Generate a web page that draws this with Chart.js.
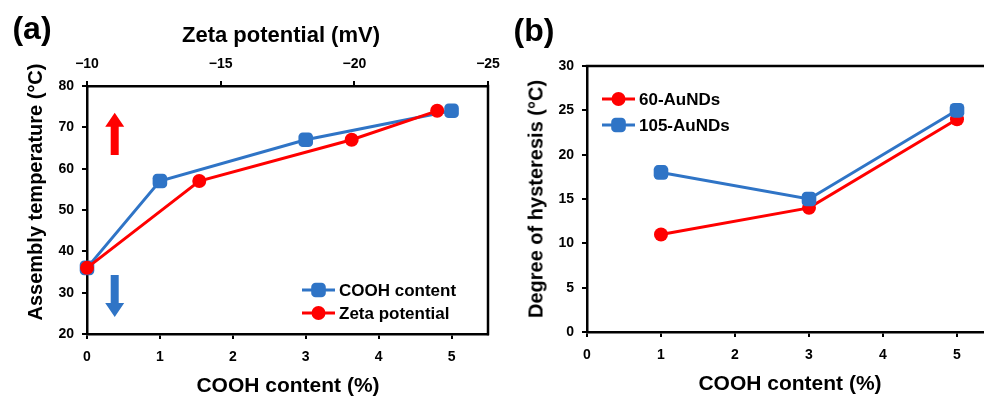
<!DOCTYPE html>
<html>
<head>
<meta charset="utf-8">
<script src="https://cdn.jsdelivr.net/npm/chart.js@4.4.1/dist/chart.umd.min.js"></script>
<style>
	html, body { margin: 0; padding: 0; background: #fff; }
	body { width: 984px; height: 396px; overflow: hidden; position: relative; font-family: Arial, "Liberation Sans", sans-serif; }
	.pane { position: absolute; top: 0; width: 520px; height: 396px; }
	.txt { position: absolute; font-weight: bold; color: #000; white-space: nowrap; transform: translate(-50%, -50%); }
	.rot { transform: translate(-50%, -50%) rotate(-90deg); }
</style>
</head>
<body>
<div class="pane" style="left:0px"><canvas id="chartA" width="520" height="396"></canvas></div>
<div class="pane" style="left:500px"><canvas id="chartB" width="520" height="396"></canvas></div>

<div class="txt" style="left:32px; top:28px; font-size:32px">(a)</div>
<div class="txt" style="left:534px; top:30px; font-size:32px">(b)</div>
<div class="txt" style="left:281px; top:35px; font-size:22px">Zeta potential (mV)</div>
<div class="txt" style="left:288px; top:385px; font-size:21px">COOH content (%)</div>
<div class="txt" style="left:790px; top:383px; font-size:21px">COOH content (%)</div>
<div class="txt rot" style="left:35px; top:192px; font-size:20px">Assembly temperature (&deg;C)</div>
<div class="txt rot" style="left:536px; top:199px; font-size:20px">Degree of hysteresis (&deg;C)</div>

<script>
// Panel (a): assembly temperature vs COOH content / zeta potential
var coohContentA = [0, 1, 3, 5];
var tempByCooh = [36, 57, 67, 74];
var zetaPotential = [-10, -14.2, -19.9, -23.1];
var tempByZeta = [36, 57, 67, 74];

// Panel (b): degree of hysteresis
var coohContentB = [1, 3, 5];
var hyst60 = [11, 14, 24];
var hyst105 = [18, 15, 25];

var RED = '#ff0000';
var BLUE = '#2f74c6';
var tickFont = { family: 'Arial, "Liberation Sans", sans-serif', size: 14, weight: 'bold' };

function pts(xs, ys) {
	return xs.map(function(x, i) { return { x: x, y: ys[i] }; });
}

//Lineas del marco que no dibuja ningun eje
var framePlugin = {
	id: 'frame',
	beforeDatasetsDraw: function(chart, args, opts) {
		var a = chart.chartArea, ctx = chart.ctx;
		ctx.save();
		ctx.strokeStyle = '#000';
		ctx.lineWidth = 2.5;
		ctx.lineCap = 'square';
		ctx.beginPath();
		if (opts.top) { ctx.moveTo(a.left, a.top); ctx.lineTo(a.right, a.top); }
		if (opts.right) { ctx.moveTo(a.right, a.top); ctx.lineTo(a.right, a.bottom); }
		ctx.stroke();
		ctx.restore();
	}
};

//Flechas de anotacion, en coordenadas de los datos
var arrowPlugin = {
	id: 'arrows',
	afterDatasetsDraw: function(chart, args, opts) {
		if (!opts.items) return;
		var ctx = chart.ctx, sx = chart.scales.x, sy = chart.scales.y;
		ctx.save();
		opts.items.forEach(function(ar) {
			var x = sx.getPixelForValue(ar.x);
			var y0 = sy.getPixelForValue(ar.from);
			var y1 = sy.getPixelForValue(ar.to);
			var dir = y1 < y0 ? 1 : -1;
			var head = 14, hw = 9.5, sw = 4;
			ctx.fillStyle = ar.color;
			ctx.beginPath();
			ctx.moveTo(x - sw, y0);
			ctx.lineTo(x - sw, y1 + dir * head);
			ctx.lineTo(x - hw, y1 + dir * head);
			ctx.lineTo(x, y1);
			ctx.lineTo(x + hw, y1 + dir * head);
			ctx.lineTo(x + sw, y1 + dir * head);
			ctx.lineTo(x + sw, y0);
			ctx.closePath();
			ctx.fill();
		});
		ctx.restore();
	}
};

//Leyenda dentro del area del grafico
var legendPlugin = {
	id: 'boxLegend',
	afterDatasetsDraw: function(chart, args, opts) {
		var ctx = chart.ctx;
		ctx.save();
		opts.items.forEach(function(idx, i) {
			var ds = chart.data.datasets[idx];
			var y = opts.y + i * opts.gap;
			ctx.strokeStyle = ds.borderColor;
			ctx.lineWidth = 3;
			ctx.beginPath();
			ctx.moveTo(opts.x, y);
			ctx.lineTo(opts.x + 33, y);
			ctx.stroke();
			ctx.fillStyle = ds.backgroundColor;
			ctx.strokeStyle = ds.borderColor;
			Chart.helpers.drawPoint(ctx, { pointStyle: ds.pointStyle, radius: ds.pointRadius, borderWidth: 0, rotation: 0 }, opts.x + 16.5, y);
			ctx.fillStyle = '#000';
			ctx.font = 'bold 17px Arial, "Liberation Sans", sans-serif';
			ctx.textBaseline = 'middle';
			ctx.textAlign = 'left';
			ctx.fillText(ds.label, opts.x + 37, y + 1);
		});
		ctx.restore();
	}
};

function axis(extra) {
	var base = {
		type: 'linear',
		ticks: { color: '#000', font: tickFont, padding: 8 },
		grid: { drawOnChartArea: false, drawTicks: true, tickLength: 5, color: '#000', lineWidth: 2 },
		border: { display: true, color: '#000', width: 2.5 }
	};
	for (var k in extra) {
		if (typeof extra[k] === 'object' && base[k] && typeof base[k] === 'object' && !Array.isArray(extra[k])) {
			base[k] = Object.assign({}, base[k], extra[k]);
		} else {
			base[k] = extra[k];
		}
	}
	return base;
}

function dropBounds(scale) {
	scale.ticks = scale.ticks.filter(function(t) { return Math.abs(t.value - Math.round(t.value)) < 1e-6; });
}

function lineSet(label, data, color, style, radius, order, xAxis) {
	return {
		label: label,
		data: data,
		xAxisID: xAxis || 'x',
		showLine: true,
		clip: false,
		borderColor: color,
		backgroundColor: color,
		borderWidth: 3,
		pointStyle: style,
		pointRadius: radius,
		pointHoverRadius: radius,
		pointBorderWidth: 0,
		order: order
	};
}

var chartA = new Chart(document.getElementById('chartA').getContext('2d'), {
	type: 'scatter',
	data: {
		datasets: [
			lineSet('COOH content', pts(coohContentA, tempByCooh), BLUE, 'rectRounded', 8.5, 1, 'x'),
			lineSet('Zeta potential', pts(zetaPotential, tempByZeta), RED, 'circle', 7, 0, 'x2')
		]
	},
	options: {
		responsive: false,
		animation: false,
		events: [],
		layout: { padding: { left: 0, top: 0, right: 32, bottom: 0 } },
		scales: {
			x: axis({ position: 'bottom', min: 0, max: 5.5, ticks: { stepSize: 1, includeBounds: false, padding: 10 },
				afterBuildTicks: dropBounds, afterFit: function(s) { s.height = 62; } }),
			x2: axis({ position: 'top', min: -25, max: -10, reverse: true,
				ticks: { stepSize: 5, callback: function(v) { return '\u2212' + Math.abs(v); } },
				afterFit: function(s) { s.height = 86; } }),
			y: axis({ position: 'left', min: 20, max: 80, ticks: { stepSize: 10 },
				afterFit: function(s) { s.width = 87; } })
		},
		plugins: {
			legend: { display: false },
			tooltip: { enabled: false },
			frame: { top: false, right: true },
			arrows: { items: [
				{ x: 0.38, from: 63.3, to: 73.5, color: RED },
				{ x: 0.38, from: 34.3, to: 24.1, color: BLUE }
			] },
			boxLegend: { x: 302, y: 290, gap: 23, items: [0, 1] }
		}
	},
	plugins: [framePlugin, arrowPlugin, legendPlugin]
});

var chartB = new Chart(document.getElementById('chartB').getContext('2d'), {
	type: 'scatter',
	data: {
		datasets: [
			lineSet('60-AuNDs', pts(coohContentB, hyst60), RED, 'circle', 7, 1),
			lineSet('105-AuNDs', pts(coohContentB, hyst105), BLUE, 'rectRounded', 8.5, 0)
		]
	},
	options: {
		responsive: false,
		animation: false,
		events: [],
		layout: { padding: { left: 0, top: 66, right: 26, bottom: 0 } },
		scales: {
			x: axis({ position: 'bottom', min: 0, max: 5.5, ticks: { stepSize: 1, includeBounds: false, padding: 10 },
				afterBuildTicks: dropBounds, afterFit: function(s) { s.height = 64; } }),
			y: axis({ position: 'left', min: 0, max: 30, ticks: { stepSize: 5 },
				afterFit: function(s) { s.width = 87; } })
		},
		plugins: {
			legend: { display: false },
			tooltip: { enabled: false },
			frame: { top: true, right: true },
			boxLegend: { x: 102, y: 99, gap: 26, items: [0, 1] }
		}
	},
	plugins: [framePlugin, arrowPlugin, legendPlugin]
});
</script>
</body>
</html>
